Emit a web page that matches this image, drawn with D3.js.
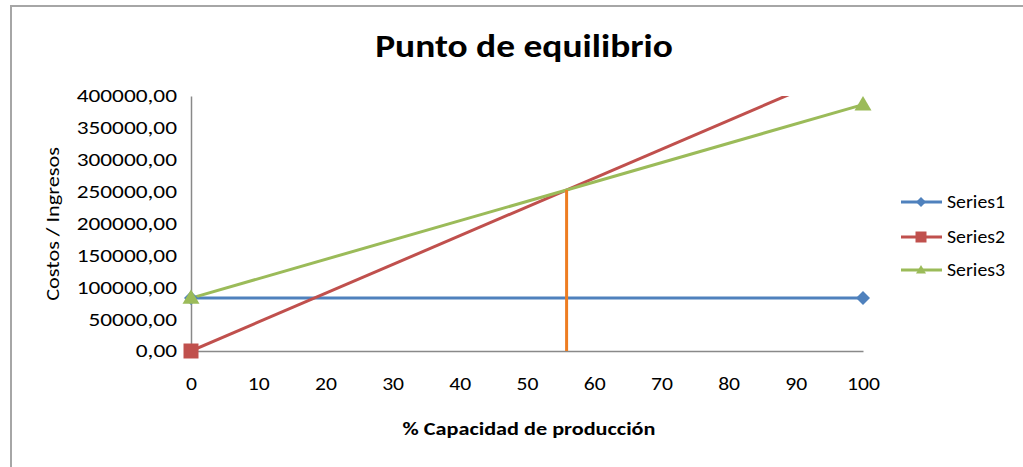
<!DOCTYPE html>
<html>
<head>
<meta charset="utf-8">
<title>Punto de equilibrio</title>
<script src="https://cdn.jsdelivr.net/npm/d3@7"></script>
<style>
  body { margin: 0; background: #fff; }
  svg { display: block; }
  text { font-family: Carlito, Calibri, Lato, sans-serif; fill: #000; }
</style>
</head>
<body>
<svg id="chart" width="1023" height="467"></svg>
<script>
// Capacity (%) at which each series is sampled
const xValues = [0, 100];
// Costos fijos
const series1 = [83000, 83000];
// Ingresos
const series2 = [0, 452000];
// Costos totales
const series3 = [83000, 386500];
const seriesNames = ["Series1", "Series2", "Series3"];
const xTicks = [0, 10, 20, 30, 40, 50, 60, 70, 80, 90, 100];
const yTicks = [0, 50000, 100000, 150000, 200000, 250000, 300000, 350000, 400000];

const colors = ["#4F81BD", "#C0504D", "#9BBB59"];
const markerTypes = ["diamond", "square", "triangle"];

const svg = d3.select("#chart");
const W = 1023, H = 467;

// widen glyphs a little so the text keeps its proportions
const STRETCH = 1.17;
function widen(sel, k = STRETCH) {
  sel.each(function () {
    const len = this.getComputedTextLength();
    d3.select(this).attr("textLength", len * k).attr("lengthAdjust", "spacingAndGlyphs");
  });
}

// outer chart frame (runs past the right and bottom edges)
svg.append("rect")
  .attr("x", 11).attr("y", 6)
  .attr("width", W + 20).attr("height", H + 20)
  .attr("fill", "#fff")
  .attr("stroke", "#a6a6a6").attr("stroke-width", 2);

const plot = { left: 191, right: 863, top: 96, bottom: 351 };

const x = d3.scaleLinear().domain([0, 100]).range([plot.left, plot.right]);
const y = d3.scaleLinear().domain([0, 400000]).range([plot.bottom, plot.top]);

const locale = d3.formatLocale({ decimal: ",", thousands: "", grouping: [3], currency: ["", ""] });
const fmtY = locale.format(".2f");

// title
svg.append("text")
  .attr("x", 524).attr("y", 57)
  .attr("text-anchor", "middle")
  .attr("font-size", 32).attr("font-weight", "bold")
  .text("Punto de equilibrio")
  .call(widen);

// axis titles
svg.append("text")
  .attr("x", 529).attr("y", 435)
  .attr("text-anchor", "middle")
  .attr("font-size", 19).attr("font-weight", "bold")
  .text("% Capacidad de producción")
  .call(widen);

svg.append("text")
  .attr("transform", "translate(59,224) rotate(-90)")
  .attr("text-anchor", "middle")
  .attr("font-size", 19)
  .text("Costos / Ingresos")
  .call(widen);

// axes
const yAxis = svg.append("g")
  .attr("transform", `translate(${plot.left},0)`)
  .call(d3.axisLeft(y).tickValues(yTicks).tickFormat(fmtY).tickSize(0).tickPadding(14));
const xAxis = svg.append("g")
  .attr("transform", `translate(0,${plot.bottom})`)
  .call(d3.axisBottom(x).tickValues(xTicks).tickSize(0).tickPadding(33));

[yAxis, xAxis].forEach(g => {
  g.attr("font-family", null).attr("font-size", null);
  g.select(".domain").attr("stroke", "#898989").attr("stroke-width", 1.5);
  g.selectAll("text").attr("font-size", 18.5).attr("fill", "#000");
});
xAxis.selectAll("text").attr("dy", "0.35em");
yAxis.selectAll("text").call(widen, 1.26);
xAxis.selectAll("text").call(widen);

// clip lines to the plot area
svg.append("clipPath").attr("id", "plotClip")
  .append("rect")
  .attr("x", plot.left - 10).attr("y", plot.top)
  .attr("width", plot.right - plot.left + 20).attr("height", plot.bottom - plot.top);

const allSeries = [series1, series2, series3].map((vals, i) => ({
  name: seriesNames[i],
  color: colors[i],
  marker: markerTypes[i],
  points: xValues.map((xv, j) => ({ x: xv, y: vals[j] }))
}));

const line = d3.line().x(d => x(d.x)).y(d => y(d.y));

// break-even point: where ingresos meet costos totales
const slope = s => (s[1] - s[0]) / (xValues[1] - xValues[0]);
const beX = (series3[0] - series2[0]) / (slope(series2) - slope(series3));
const beY = series2[0] + slope(series2) * beX;

function markerPath(type, s) {
  const h = s / 2;
  if (type === "diamond") return `M0,${-h}L${h},0L0,${h}L${-h},0Z`;
  if (type === "square") return `M${-h},${-h}H${h}V${h}H${-h}Z`;
  const th = s * 0.85;
  return `M0,${-th * 0.6}L${h},${th * 0.4}L${-h},${th * 0.4}Z`;
}

const lines = svg.append("g").attr("clip-path", "url(#plotClip)");
allSeries.forEach(s => {
  lines.append("path")
    .datum(s.points)
    .attr("d", line)
    .attr("fill", "none")
    .attr("stroke", s.color)
    .attr("stroke-width", 3);
});

// vertical break-even marker
svg.append("line")
  .attr("x1", x(beX)).attr("x2", x(beX))
  .attr("y1", y(0)).attr("y2", y(beY))
  .attr("stroke", "#EE7D22").attr("stroke-width", 3);

// markers (only those inside the value range are drawn)
const markerSizes = { diamond: 14, square: 15, triangle: 17 };
allSeries.forEach(s => {
  svg.append("g").selectAll("path")
    .data(s.points.filter(p => p.y <= 400000))
    .join("path")
    .attr("transform", p => `translate(${x(p.x)},${y(p.y)})`)
    .attr("d", markerPath(s.marker, markerSizes[s.marker]))
    .attr("fill", s.color);
});

// legend
const legend = svg.append("g");
const legendY = [202, 237, 270];
allSeries.forEach((s, i) => {
  const g = legend.append("g").attr("transform", `translate(0,${legendY[i]})`);
  g.append("line").attr("x1", 901).attr("x2", 942).attr("y1", 0).attr("y2", 0)
    .attr("stroke", s.color).attr("stroke-width", 3);
  g.append("path").attr("transform", "translate(921,0)")
    .attr("d", markerPath(s.marker, s.marker === "square" ? 11 : 10))
    .attr("fill", s.color);
  g.append("text").attr("x", 947).attr("y", 0).attr("dy", "0.35em")
    .attr("font-size", 18).text(s.name)
    .call(widen, 1.1);
});
</script>
</body>
</html>
